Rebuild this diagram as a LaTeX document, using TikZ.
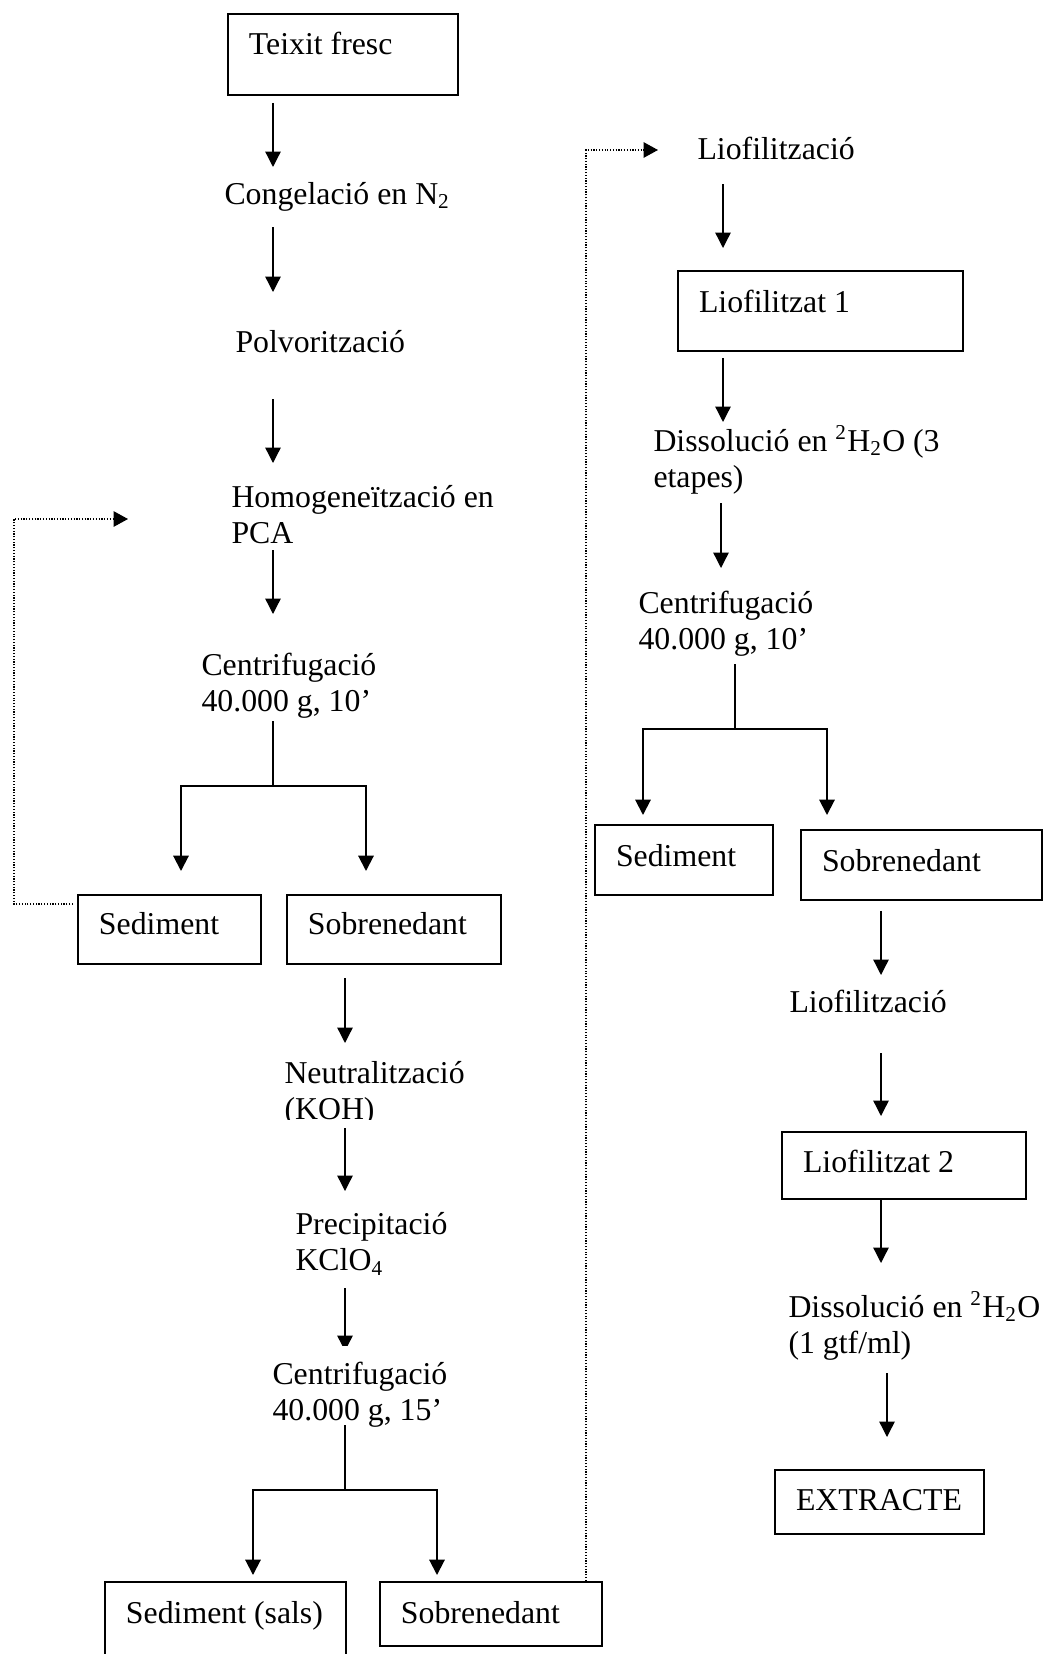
\documentclass[tikz,border=0pt]{standalone}
\usepackage{fontspec}
\setmainfont{Liberation Serif}
\usetikzlibrary{arrows.meta}
\newcommand\pxu{0.3774pt}
\newcommand\fsz{\fontsize{12}{13.95}\selectfont}
\tikzset{
  txt/.style={anchor=base west, inner sep=0pt, text width=300*\pxu, align=flush left, font=\fsz},
  box/.style={draw, line width=0.75pt, anchor=north west, inner xsep=21*\pxu, inner ysep=0pt, align=flush left, font=\fsz},
  boxsize/.style n args={3}{text width=#1*\pxu, text height=#2*\pxu, text depth=#3*\pxu},
  arr/.style={line width=0.5pt, -{Triangle[width=5.8pt,length=5.8pt]}},
  split/.style={line width=0.75pt},
  dotarr/.style={line width=0.45pt, dash pattern=on 0.45pt off 0.6pt, -{Triangle[width=5.8pt,length=5.4pt]}},
}
\begin{document}
\begin{tikzpicture}[x=0.3774pt, y=-0.3774pt]
\useasboundingbox (0,0) rectangle (1042,1654);

\coordinate (colA) at (273,0);
\coordinate (colB) at (345,0);
\coordinate (colC) at (723,0);
\coordinate (colD) at (881,0);

% first column
\node[box, boxsize={188}{41}{40}] (teixit) at (227,13) {Teixit fresc};
\node[txt] (cong) at (224,204) {Congelació en N\textsubscript{2}};
\node[txt] (polv) at (235,352) {Polvorització};
\node[txt] (homog) at (231,507) {Homogeneïtzació en\\PCA};
\node[txt] (centA) at (201,675) {Centrifugació\\40.000 g, 10’};
\node[box, boxsize={141}{39}{30}] (sedA) at (77,894) {Sediment};
\node[box, boxsize={172}{39}{30}] (sobA) at (286,894) {Sobrenedant};
\begin{scope}
\clip (0,0) rectangle (1042,1119);
\node[txt] (neutr) at (284,1083) {Neutralització\\(KOH)};
\end{scope}
\node[txt] (prec) at (295,1234) {Precipitació\\KClO\textsubscript{4}};
\node[txt] (centB) at (272,1384) {Centrifugació\\40.000 g, 15’};
\node[box, boxsize={199}{41}{48}] (sedB) at (104,1581) {Sediment~(sals)};
\node[box, boxsize={180}{41}{23}] (sobB) at (379,1581) {Sobrenedant};

% second column
\node[txt] (lio1) at (697,159) {Liofilització};
\node[box, boxsize={243}{42}{38}] (lioz1) at (677,270) {Liofilitzat 1};
\node[txt] (diss1) at (653,451) {Dissolució en \textsuperscript{2}H\textsubscript{2}O (3\\etapes)};
\node[txt] (centC) at (638,613) {Centrifugació\\40.000 g, 10’};
\node[box, boxsize={136}{41}{29}] (sedC) at (594,824) {Sediment};
\node[box, boxsize={199}{41}{29}] (sobC) at (800,829) {Sobrenedant};
\node[txt] (lio2) at (789,1012) {Liofilització};
\node[box, boxsize={202}{40}{27}] (lioz2) at (781,1131) {Liofilitzat 2};
\node[txt] (diss2) at (788,1317) {Dissolució en \textsuperscript{2}H\textsubscript{2}O\\(1 gtf/ml)};
\node[box, boxsize={167}{40}{24}] (extr) at (774,1469) {EXTRACTE};

% arrows, first column
\draw[arr] (teixit.south -| colA) ++(0,7) -- ++(0,64);
\draw[arr] (cong.base -| colA) ++(0,23) -- ++(0,65);
\draw[arr] (polv.base -| colA) ++(0,47) -- ++(0,64);
\draw[arr] (homog.base -| colA) ++(0,43) -- ++(0,64);
\draw[split] (centA.base -| colA) ++(0,46) -- ++(0,65) coordinate (jA);
\draw[arr,split] (jA) -| ++(-92,85);
\draw[arr,split] (jA) -| ++(93,85);
\draw[arr] (sobA.south -| colB) ++(0,13) -- ++(0,65);
\draw[arr] (neutr.base -| colB) ++(0,45) -- ++(0,63);
\begin{scope}
\clip (0,0) rectangle (1042,1345);
\draw[arr] (prec.base -| colB) ++(0,54) -- ++(0,63);
\end{scope}
\draw[split] (centB.base -| colB) ++(0,41) -- ++(0,65) coordinate (jB);
\draw[arr,split] (jB) -| ++(-92,85);
\draw[arr,split] (jB) -| ++(92,85);

% arrows, second column
\draw[arr] (lio1.base -| colC) ++(0,25) -- ++(0,64);
\draw[arr] (lioz1.south -| colC) ++(0,6) -- ++(0,64);
\draw[arr] (diss1.base -| colC) ++(-2,52) -- ++(0,65);
\draw[split] (centC.base -| colC) ++(12,51) -- ++(0,65) coordinate (jC);
\draw[arr,split] (jC) -| ++(-92,86);
\draw[arr,split] (jC) -| ++(92,86);
\draw[arr] (sobC.south -| colD) ++(0,10) -- ++(0,64);
\draw[arr] (lio2.base -| colD) ++(0,41) -- ++(0,63);
\draw[arr] (lioz2.south -| colD) -- ++(0,63);
\draw[arr] (diss2.base -| colD) ++(6,56) -- ++(0,64);

% dotted returns
\draw[dotarr] (sedA.north west) ++(-4,10) -- ++(-59,0) |- ++(114,-385);
\draw[dotarr] (sobB.north east) ++(-17,0) |- ++(72,-1431);
\end{tikzpicture}
\end{document}
